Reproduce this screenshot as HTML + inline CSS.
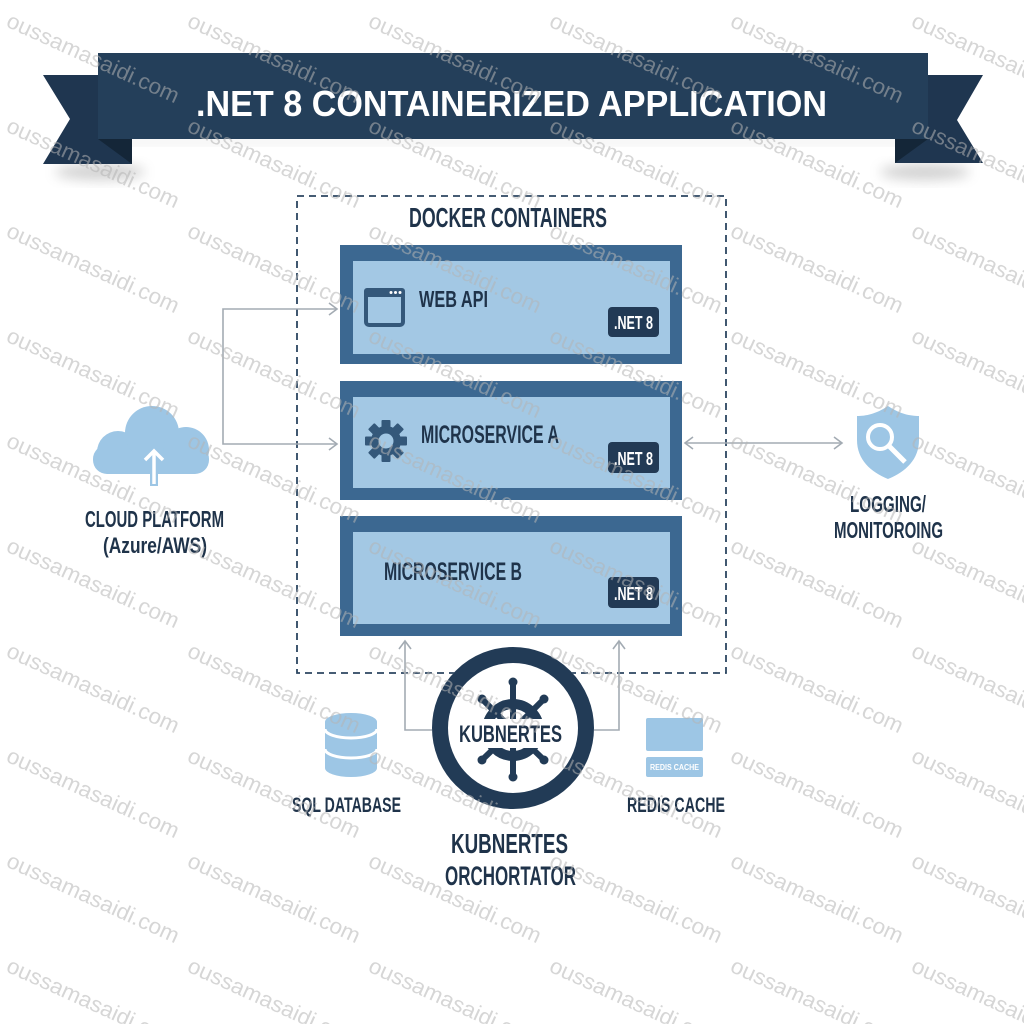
<!DOCTYPE html>
<html><head><meta charset="utf-8"><style>
html,body{margin:0;padding:0;background:#fff;}
svg{display:block;}
text{font-family:"Liberation Sans",sans-serif;}
</style></head><body>
<svg width="1024" height="1024" viewBox="0 0 1024 1024" xmlns="http://www.w3.org/2000/svg">
<defs>
<filter id="blur" x="-50%" y="-50%" width="200%" height="200%"><feGaussianBlur stdDeviation="6"/></filter>
</defs>
<rect width="1024" height="1024" fill="#ffffff"/>

<!-- banner shadows -->
<ellipse cx="100" cy="172" rx="45" ry="8" fill="#9a9a9a" opacity="0.45" filter="url(#blur)"/>
<ellipse cx="925" cy="172" rx="45" ry="8" fill="#9a9a9a" opacity="0.45" filter="url(#blur)"/>
<rect x="110" y="138" width="800" height="6" fill="#cfcfcf" opacity="0.4" filter="url(#blur)"/>

<!-- banner -->
<polygon points="43,75 132,75 132,164 43,164 70,119" fill="#1f3650"/>
<polygon points="983,75 895,75 895,163 983,163 957,120" fill="#1f3650"/>
<polygon points="98,139 132,139 132,164" fill="#142638"/>
<polygon points="928,139 895,139 895,163" fill="#142638"/>
<rect x="98" y="53" width="830" height="86" fill="#243f5a"/>
<text x="196" y="116" font-size="36" font-weight="bold" fill="#ffffff" textLength="631" lengthAdjust="spacingAndGlyphs">.NET 8 CONTAINERIZED APPLICATION</text>

<!-- dashed container -->
<rect x="297" y="196" width="429" height="477" fill="none" stroke="#2c4661" stroke-width="1.8" stroke-dasharray="7 5"/>
<text x="409" y="227" font-size="28" font-weight="bold" fill="#1f334a" textLength="198" lengthAdjust="spacingAndGlyphs">DOCKER CONTAINERS</text>

<!-- Web API -->
<rect x="340" y="245" width="342" height="119" fill="#3c6891"/>
<rect x="353" y="261" width="317" height="93" fill="#a3c8e4"/>
<rect x="366" y="290" width="37" height="35" rx="3" fill="none" stroke="#34587a" stroke-width="4"/>
<rect x="364" y="288" width="41" height="9" rx="3" fill="#34587a"/>
<circle cx="391" cy="292.5" r="1.5" fill="#fff"/><circle cx="395.5" cy="292.5" r="1.5" fill="#fff"/><circle cx="400" cy="292.5" r="1.5" fill="#fff"/>
<text x="419" y="307" font-size="23" font-weight="bold" fill="#1f334a" textLength="69" lengthAdjust="spacingAndGlyphs">WEB API</text>
<rect x="608" y="307" width="51" height="30" rx="4" fill="#223a55"/>
<text x="614" y="329" font-size="18" font-weight="bold" fill="#ffffff" textLength="39" lengthAdjust="spacingAndGlyphs">.NET 8</text>

<!-- Microservice A -->
<rect x="340" y="381" width="342" height="119" fill="#3c6891"/>
<rect x="353" y="397" width="317" height="91" fill="#a3c8e4"/>
<g transform="translate(386,441)" fill="#34587a">
  <circle r="15"/>
  <rect x="-4.5" y="-21" width="9" height="10" rx="1"/>
  <rect x="-4.5" y="-21" width="9" height="10" rx="1" transform="rotate(45)"/>
  <rect x="-4.5" y="-21" width="9" height="10" rx="1" transform="rotate(90)"/>
  <rect x="-4.5" y="-21" width="9" height="10" rx="1" transform="rotate(135)"/>
  <rect x="-4.5" y="-21" width="9" height="10" rx="1" transform="rotate(180)"/>
  <rect x="-4.5" y="-21" width="9" height="10" rx="1" transform="rotate(225)"/>
  <rect x="-4.5" y="-21" width="9" height="10" rx="1" transform="rotate(270)"/>
  <rect x="-4.5" y="-21" width="9" height="10" rx="1" transform="rotate(315)"/>
  <circle r="7.5" fill="#a3c8e4"/>
</g>
<text x="421" y="443" font-size="25" font-weight="bold" fill="#1f334a" textLength="138" lengthAdjust="spacingAndGlyphs">MICROSERVICE A</text>
<rect x="608" y="442" width="51" height="31" rx="4" fill="#223a55"/>
<text x="614" y="465" font-size="18" font-weight="bold" fill="#ffffff" textLength="39" lengthAdjust="spacingAndGlyphs">.NET 8</text>

<!-- Microservice B -->
<rect x="340" y="516" width="342" height="120" fill="#3c6891"/>
<rect x="353" y="532" width="317" height="92" fill="#a3c8e4"/>
<text x="384" y="580" font-size="25" font-weight="bold" fill="#1f334a" textLength="138" lengthAdjust="spacingAndGlyphs">MICROSERVICE B</text>
<rect x="608" y="577" width="51" height="31" rx="4" fill="#223a55"/>
<text x="614" y="600" font-size="18" font-weight="bold" fill="#ffffff" textLength="39" lengthAdjust="spacingAndGlyphs">.NET 8</text>

<!-- connectors -->
<g fill="none" stroke="#a3abb3" stroke-width="1.6">
  <polyline points="337,309 223,309 223,444 337,444"/>
  <polyline points="329,303 337,309 329,315"/>
  <polyline points="329,438 337,444 329,450"/>
  <line x1="685" y1="443" x2="842" y2="443"/>
  <polyline points="693,437 685,443 693,449"/>
  <polyline points="834,437 842,443 834,449"/>
  <polyline points="432,730 405,730 405,641"/>
  <polyline points="399,649 405,641 411,649"/>
  <polyline points="594,730 619,730 619,641"/>
  <polyline points="613,649 619,641 625,649"/>
</g>

<!-- Cloud -->
<g fill="#9dc6e5">
  <rect x="93" y="445" width="116" height="29" rx="14"/>
  <circle cx="118" cy="452" r="21"/>
  <circle cx="152" cy="433" r="27"/>
  <circle cx="186" cy="450" r="23"/>
</g>
<line x1="154" y1="486" x2="154" y2="452" stroke="#9dc6e5" stroke-width="8"/>
<polyline points="143,461 154,450 165,461" fill="none" stroke="#9dc6e5" stroke-width="8" stroke-linejoin="miter"/>
<line x1="154" y1="484" x2="154" y2="452" stroke="#ffffff" stroke-width="3.5"/>
<polyline points="145,460 154,451 163,460" fill="none" stroke="#ffffff" stroke-width="3.5"/>
<text x="85" y="527" font-size="23" font-weight="bold" fill="#1f334a" textLength="139" lengthAdjust="spacingAndGlyphs">CLOUD PLATFORM</text>
<text x="103" y="553" font-size="22" font-weight="bold" fill="#1f334a" textLength="104" lengthAdjust="spacingAndGlyphs">(Azure/AWS)</text>

<!-- Shield -->
<path d="M888 406 C876 414 866 416 857 416 L857 440 C857 460 871 472 888 479 C905 472 919 460 919 440 L919 416 C910 416 900 414 888 406 Z" fill="#9dc6e5"/>
<circle cx="880" cy="437" r="12" fill="none" stroke="#ffffff" stroke-width="4"/>
<line x1="889" y1="446" x2="905" y2="462" stroke="#ffffff" stroke-width="5"/>
<text x="850" y="512" font-size="23" font-weight="bold" fill="#1f334a" textLength="76" lengthAdjust="spacingAndGlyphs">LOGGING/</text>
<text x="834" y="538" font-size="23" font-weight="bold" fill="#1f334a" textLength="109" lengthAdjust="spacingAndGlyphs">MONITOROING</text>

<!-- Kubernetes -->
<circle cx="513" cy="728" r="81" fill="#ffffff"/>
<circle cx="513" cy="728" r="73" fill="none" stroke="#223b56" stroke-width="16"/>
<g stroke="#223b56" stroke-linecap="round">
  <circle cx="513" cy="730" r="26" fill="none" stroke-width="10"/>
  <line x1="513" y1="730" x2="513" y2="682" stroke-width="6"/>
  <line x1="513" y1="730" x2="513" y2="777" stroke-width="6"/>
  <line x1="513" y1="730" x2="482" y2="699" stroke-width="6"/>
  <line x1="513" y1="730" x2="544" y2="699" stroke-width="6"/>
  <line x1="513" y1="730" x2="482" y2="760" stroke-width="6"/>
  <line x1="513" y1="730" x2="544" y2="760" stroke-width="6"/>
</g>
<g fill="#223b56">
  <circle cx="513" cy="682" r="4.5"/><circle cx="513" cy="777" r="4.5"/>
  <circle cx="482" cy="699" r="4.5"/><circle cx="544" cy="699" r="4.5"/>
  <circle cx="482" cy="760" r="4.5"/><circle cx="544" cy="760" r="4.5"/>
</g>
<rect x="456" y="719" width="114" height="29" fill="#ffffff"/>
<text x="459" y="742" font-size="24" font-weight="bold" fill="#1f334a" textLength="103" lengthAdjust="spacingAndGlyphs">KUBNERTES</text>
<text x="451" y="853" font-size="28" font-weight="bold" fill="#1f334a" textLength="117" lengthAdjust="spacingAndGlyphs">KUBNERTES</text>
<text x="445" y="885" font-size="27" font-weight="bold" fill="#1f334a" textLength="131" lengthAdjust="spacingAndGlyphs">ORCHORTATOR</text>

<!-- SQL -->
<path d="M325 722 L325 768 A26 9 0 0 0 377 768 L377 722 A26 9 0 0 0 325 722 Z" fill="#9dc6e5"/>
<path d="M325 729 A26 9 0 0 0 377 729" fill="none" stroke="#ffffff" stroke-width="3"/>
<path d="M325 749 A26 9 0 0 0 377 749" fill="none" stroke="#ffffff" stroke-width="3"/>
<text x="292" y="812" font-size="21" font-weight="bold" fill="#1f334a" textLength="109" lengthAdjust="spacingAndGlyphs">SQL DATABASE</text>

<!-- Redis -->
<rect x="646" y="718" width="57" height="33" rx="2" fill="#9dc6e5"/>
<rect x="646" y="757" width="57" height="20" rx="2" fill="#9dc6e5"/>
<text x="650" y="770" font-size="8" font-weight="bold" fill="#ffffff" textLength="49" lengthAdjust="spacingAndGlyphs">REDIS CACHE</text>
<text x="627" y="812" font-size="21" font-weight="bold" fill="#1f334a" textLength="98" lengthAdjust="spacingAndGlyphs">REDIS CACHE</text>

<!-- watermarks -->
<g font-size="22" fill="#b4b4b4" opacity="0.55">
<text transform="translate(5,26) rotate(24.5)" textLength="187" lengthAdjust="spacingAndGlyphs">oussamasaidi.com</text>
<text transform="translate(186,26) rotate(24.5)" textLength="187" lengthAdjust="spacingAndGlyphs">oussamasaidi.com</text>
<text transform="translate(367,26) rotate(24.5)" textLength="187" lengthAdjust="spacingAndGlyphs">oussamasaidi.com</text>
<text transform="translate(548,26) rotate(24.5)" textLength="187" lengthAdjust="spacingAndGlyphs">oussamasaidi.com</text>
<text transform="translate(729,26) rotate(24.5)" textLength="187" lengthAdjust="spacingAndGlyphs">oussamasaidi.com</text>
<text transform="translate(910,26) rotate(24.5)" textLength="187" lengthAdjust="spacingAndGlyphs">oussamasaidi.com</text>
<text transform="translate(5,131) rotate(24.5)" textLength="187" lengthAdjust="spacingAndGlyphs">oussamasaidi.com</text>
<text transform="translate(186,131) rotate(24.5)" textLength="187" lengthAdjust="spacingAndGlyphs">oussamasaidi.com</text>
<text transform="translate(367,131) rotate(24.5)" textLength="187" lengthAdjust="spacingAndGlyphs">oussamasaidi.com</text>
<text transform="translate(548,131) rotate(24.5)" textLength="187" lengthAdjust="spacingAndGlyphs">oussamasaidi.com</text>
<text transform="translate(729,131) rotate(24.5)" textLength="187" lengthAdjust="spacingAndGlyphs">oussamasaidi.com</text>
<text transform="translate(910,131) rotate(24.5)" textLength="187" lengthAdjust="spacingAndGlyphs">oussamasaidi.com</text>
<text transform="translate(5,236) rotate(24.5)" textLength="187" lengthAdjust="spacingAndGlyphs">oussamasaidi.com</text>
<text transform="translate(186,236) rotate(24.5)" textLength="187" lengthAdjust="spacingAndGlyphs">oussamasaidi.com</text>
<text transform="translate(367,236) rotate(24.5)" textLength="187" lengthAdjust="spacingAndGlyphs">oussamasaidi.com</text>
<text transform="translate(548,236) rotate(24.5)" textLength="187" lengthAdjust="spacingAndGlyphs">oussamasaidi.com</text>
<text transform="translate(729,236) rotate(24.5)" textLength="187" lengthAdjust="spacingAndGlyphs">oussamasaidi.com</text>
<text transform="translate(910,236) rotate(24.5)" textLength="187" lengthAdjust="spacingAndGlyphs">oussamasaidi.com</text>
<text transform="translate(5,341) rotate(24.5)" textLength="187" lengthAdjust="spacingAndGlyphs">oussamasaidi.com</text>
<text transform="translate(186,341) rotate(24.5)" textLength="187" lengthAdjust="spacingAndGlyphs">oussamasaidi.com</text>
<text transform="translate(367,341) rotate(24.5)" textLength="187" lengthAdjust="spacingAndGlyphs">oussamasaidi.com</text>
<text transform="translate(548,341) rotate(24.5)" textLength="187" lengthAdjust="spacingAndGlyphs">oussamasaidi.com</text>
<text transform="translate(729,341) rotate(24.5)" textLength="187" lengthAdjust="spacingAndGlyphs">oussamasaidi.com</text>
<text transform="translate(910,341) rotate(24.5)" textLength="187" lengthAdjust="spacingAndGlyphs">oussamasaidi.com</text>
<text transform="translate(5,446) rotate(24.5)" textLength="187" lengthAdjust="spacingAndGlyphs">oussamasaidi.com</text>
<text transform="translate(186,446) rotate(24.5)" textLength="187" lengthAdjust="spacingAndGlyphs">oussamasaidi.com</text>
<text transform="translate(367,446) rotate(24.5)" textLength="187" lengthAdjust="spacingAndGlyphs">oussamasaidi.com</text>
<text transform="translate(548,446) rotate(24.5)" textLength="187" lengthAdjust="spacingAndGlyphs">oussamasaidi.com</text>
<text transform="translate(729,446) rotate(24.5)" textLength="187" lengthAdjust="spacingAndGlyphs">oussamasaidi.com</text>
<text transform="translate(910,446) rotate(24.5)" textLength="187" lengthAdjust="spacingAndGlyphs">oussamasaidi.com</text>
<text transform="translate(5,551) rotate(24.5)" textLength="187" lengthAdjust="spacingAndGlyphs">oussamasaidi.com</text>
<text transform="translate(186,551) rotate(24.5)" textLength="187" lengthAdjust="spacingAndGlyphs">oussamasaidi.com</text>
<text transform="translate(367,551) rotate(24.5)" textLength="187" lengthAdjust="spacingAndGlyphs">oussamasaidi.com</text>
<text transform="translate(548,551) rotate(24.5)" textLength="187" lengthAdjust="spacingAndGlyphs">oussamasaidi.com</text>
<text transform="translate(729,551) rotate(24.5)" textLength="187" lengthAdjust="spacingAndGlyphs">oussamasaidi.com</text>
<text transform="translate(910,551) rotate(24.5)" textLength="187" lengthAdjust="spacingAndGlyphs">oussamasaidi.com</text>
<text transform="translate(5,656) rotate(24.5)" textLength="187" lengthAdjust="spacingAndGlyphs">oussamasaidi.com</text>
<text transform="translate(186,656) rotate(24.5)" textLength="187" lengthAdjust="spacingAndGlyphs">oussamasaidi.com</text>
<text transform="translate(367,656) rotate(24.5)" textLength="187" lengthAdjust="spacingAndGlyphs">oussamasaidi.com</text>
<text transform="translate(548,656) rotate(24.5)" textLength="187" lengthAdjust="spacingAndGlyphs">oussamasaidi.com</text>
<text transform="translate(729,656) rotate(24.5)" textLength="187" lengthAdjust="spacingAndGlyphs">oussamasaidi.com</text>
<text transform="translate(910,656) rotate(24.5)" textLength="187" lengthAdjust="spacingAndGlyphs">oussamasaidi.com</text>
<text transform="translate(5,761) rotate(24.5)" textLength="187" lengthAdjust="spacingAndGlyphs">oussamasaidi.com</text>
<text transform="translate(186,761) rotate(24.5)" textLength="187" lengthAdjust="spacingAndGlyphs">oussamasaidi.com</text>
<text transform="translate(367,761) rotate(24.5)" textLength="187" lengthAdjust="spacingAndGlyphs">oussamasaidi.com</text>
<text transform="translate(548,761) rotate(24.5)" textLength="187" lengthAdjust="spacingAndGlyphs">oussamasaidi.com</text>
<text transform="translate(729,761) rotate(24.5)" textLength="187" lengthAdjust="spacingAndGlyphs">oussamasaidi.com</text>
<text transform="translate(910,761) rotate(24.5)" textLength="187" lengthAdjust="spacingAndGlyphs">oussamasaidi.com</text>
<text transform="translate(5,866) rotate(24.5)" textLength="187" lengthAdjust="spacingAndGlyphs">oussamasaidi.com</text>
<text transform="translate(186,866) rotate(24.5)" textLength="187" lengthAdjust="spacingAndGlyphs">oussamasaidi.com</text>
<text transform="translate(367,866) rotate(24.5)" textLength="187" lengthAdjust="spacingAndGlyphs">oussamasaidi.com</text>
<text transform="translate(548,866) rotate(24.5)" textLength="187" lengthAdjust="spacingAndGlyphs">oussamasaidi.com</text>
<text transform="translate(729,866) rotate(24.5)" textLength="187" lengthAdjust="spacingAndGlyphs">oussamasaidi.com</text>
<text transform="translate(910,866) rotate(24.5)" textLength="187" lengthAdjust="spacingAndGlyphs">oussamasaidi.com</text>
<text transform="translate(5,971) rotate(24.5)" textLength="187" lengthAdjust="spacingAndGlyphs">oussamasaidi.com</text>
<text transform="translate(186,971) rotate(24.5)" textLength="187" lengthAdjust="spacingAndGlyphs">oussamasaidi.com</text>
<text transform="translate(367,971) rotate(24.5)" textLength="187" lengthAdjust="spacingAndGlyphs">oussamasaidi.com</text>
<text transform="translate(548,971) rotate(24.5)" textLength="187" lengthAdjust="spacingAndGlyphs">oussamasaidi.com</text>
<text transform="translate(729,971) rotate(24.5)" textLength="187" lengthAdjust="spacingAndGlyphs">oussamasaidi.com</text>
<text transform="translate(910,971) rotate(24.5)" textLength="187" lengthAdjust="spacingAndGlyphs">oussamasaidi.com</text>
</g>
</svg>
</body></html>
